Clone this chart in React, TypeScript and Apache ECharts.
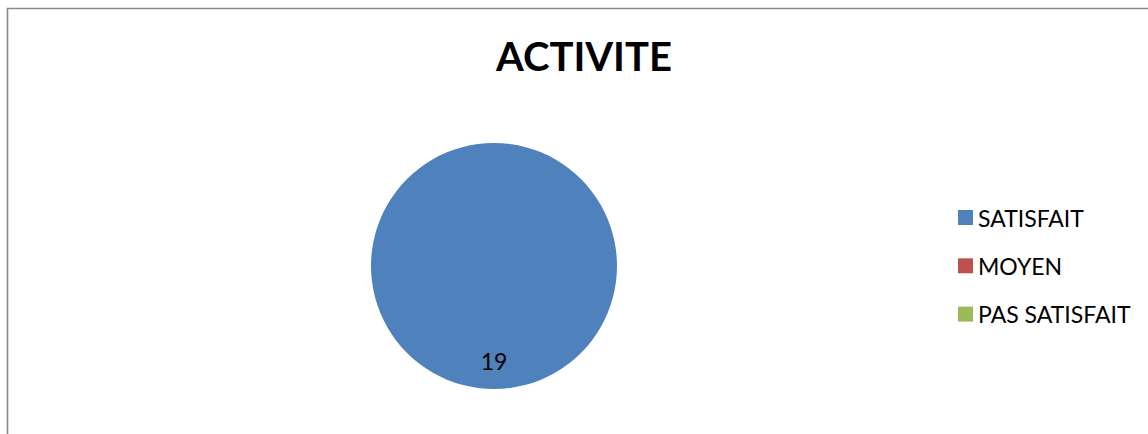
import React, { useEffect, useRef } from "react";
import * as echarts from "echarts";

const titleText = "ACTIVITE";
const categories = ["SATISFAIT", "MOYEN", "PAS SATISFAIT"];
const values = [19, 0, 0];
const colors = ["#4F81BD", "#C0504D", "#9BBB59"];

const FONT = "Lato, 'Liberation Sans', sans-serif";

export default function App() {
  const ref = useRef<HTMLDivElement>(null);
  useEffect(() => {
    if (!ref.current) return;
    const chart = echarts.init(ref.current, undefined, { renderer: "svg" });
    chart.setOption({
      animation: false,
      backgroundColor: "#ffffff",
      color: colors,
      title: {
        text: titleText,
        left: 496,
        top: 36,
        padding: 0,
        textStyle: {
          fontFamily: FONT,
          fontWeight: "bold",
          fontSize: 40,
          color: "#000000",
        },
      },
      legend: {
        orient: "vertical",
        left: 958,
        top: 206,
        padding: 0,
        itemWidth: 15,
        itemHeight: 15,
        itemGap: 25.3,
        icon: "rect",
        selectedMode: false,
        textStyle: {
          fontFamily: FONT,
          fontSize: 23,
          lineHeight: 23,
          color: "#000000",
        },
        data: categories,
      },
      graphic: [
        {
          type: "rect",
          silent: true,
          shape: { x: 7.5, y: 8.5, width: 1200, height: 500 },
          style: { fill: "none", stroke: "#8a8a8a", lineWidth: 1.6 },
        },
      ],
      series: [
        {
          type: "pie",
          radius: 123,
          center: [494, 266],
          startAngle: 90,
          clockwise: true,
          avoidLabelOverlap: false,
          silent: true,
          label: {
            show: true,
            position: "inside",
            fontFamily: FONT,
            fontSize: 23,
            color: "#000000",
            formatter: (p: any) => (p.value ? String(p.value) : ""),
          },
          labelLayout: { dy: 30 },
          labelLine: { show: false },
          emphasis: { disabled: true },
          data: categories.map((name, i) => ({ name, value: values[i] })),
        },
      ],
    });
    return () => chart.dispose();
  }, []);
  return (
    <div
      ref={ref}
      style={{ position: "fixed", left: 0, top: 0, width: 1148, height: 434 }}
    />
  );
}
